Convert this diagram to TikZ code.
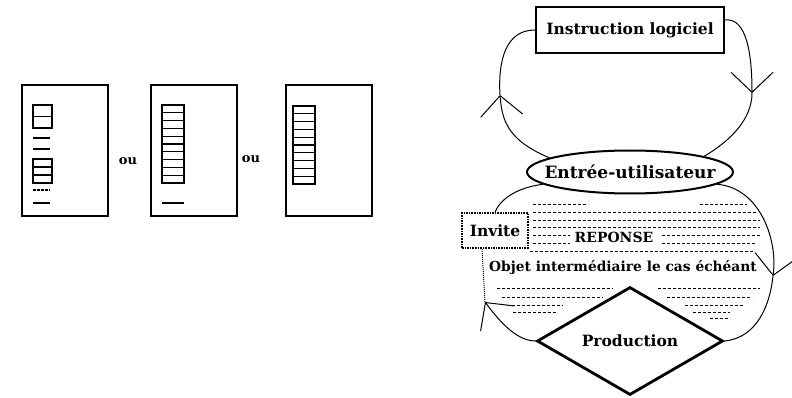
\documentclass[tikz,border=0pt]{standalone}
\usepackage{fontspec}
\setmainfont{DejaVu Serif}
\usetikzlibrary{
  arrows.meta,
  shapes.geometric
}
\tikzset{
  screenbox/.style={draw, line width=1.6pt, minimum width=86pt, minimum height=131pt, inner sep=0pt},
  listcell/.style={draw, line width=1.3pt},
  stubline/.style={line width=1.3pt},
  oulabel/.style={font=\fontsize{13}{14}\selectfont\bfseries, inner sep=0pt},
  txt/.style={font=\fontsize{15.5}{17}\selectfont\bfseries, inner sep=0pt},
  instrbox/.style={draw, line width=2.4pt, minimum width=188pt, minimum height=46pt, txt},
  userellipse/.style={draw, ellipse, line width=2pt, minimum width=206pt, minimum height=43pt, inner sep=0pt},
  invitebox/.style={draw, densely dotted, line width=1.6pt, minimum width=66pt, minimum height=35pt, txt},
  proddiamond/.style={draw, diamond, aspect=1.7, line width=2.8pt, minimum width=186pt, minimum height=108pt, txt},
  loopline/.style={line width=1pt},
  barb/.style={loopline, -{Straight Barb[length=20pt, width=42pt]}},
  hatch/.style={line width=1pt, dash pattern=on 3pt off 2pt}
}

\begin{document}
\begin{tikzpicture}[x=1pt, y=-1pt]
  \useasboundingbox (0,0) rectangle (792,398);

  % three screen layouts
  \node[screenbox] (scr1) at (65,150.5) {};
  \node[screenbox] (scr2) at (194,150.5) {};
  \node[screenbox] (scr3) at (329,150.5) {};
  \node[oulabel] (ou1) at (128,161) {ou};
  \node[oulabel] (ou2) at (251,159) {ou};

  \draw[listcell] (33,105) rectangle (52,128);
  \draw[listcell] (33,116.5) -- (52,116.5);
  \draw[listcell] (33,159) rectangle (52,183);
  \foreach \y in {167,175}
    \draw[listcell] (33,\y) -- (52,\y);
  \draw[stubline] (33,138) -- (50,138);
  \draw[stubline] (33,149) -- (50,149);
  \draw[stubline, dash pattern=on 3pt off 1pt] (33,190) -- (50,190);
  \draw[stubline] (33,203) -- (50,203);

  \foreach \x/\top in {162/105, 293/106}{
    \foreach \k in {0,...,9}
      \draw[listcell] (\x,\top+\k*7.8) rectangle +(22,7.8);
  }
  \draw[stubline, line width=1.6pt] (162,203) -- (184,203);

  % interaction loop
  \node[instrbox] (instr) at (630,30) {Instruction logiciel};
  \node[userellipse] (entree) at (630,172) {};
  \node[txt, font=\fontsize{17}{19}\selectfont\bfseries] (entreetxt) at (entree) {Entrée-utilisateur};
  \node[invitebox] (invite) at (495,230.5) {Invite};
  \node[txt, font=\fontsize{14}{16}\selectfont\bfseries] (reponse) at (614,237) {REPONSE};
  \node[txt, font=\fontsize{13.8}{16}\selectfont\bfseries] (objet) at (623,268) {Objet intermédiaire le cas échéant};
  \node[proddiamond] (prod) at (630,341) {Production};

  \foreach \y/\xa/\xb in {205/533/588, 205/700/747, 212/533/757, 220/533/760,
      227/533/760, 235/533/570, 235/662/760, 243/533/570, 243/662/757,
      251/530/755, 288/497/613, 288/658/760, 297/502/603, 297/667/752,
      305/512/563, 305/685/743, 312/513/557, 312/693/730, 318/710/730}
    \draw[hatch] (\xa,\y) -- (\xb,\y);

  \coordinate (tipL) at (500,95);
  \coordinate (tipR) at (752,93);
  \coordinate (tipLR) at (773,276);
  \coordinate (tipLL) at (485,302);

  \draw[barb] (instr.6) .. controls (742,18) and (752,40) .. (tipR);
  \draw[loopline] (tipR) .. controls (752,118) and (732,140) .. (entree.12);
  \draw[barb] (entree.170) .. controls (507,140) and (502,120) .. (tipL);
  \draw[loopline] (tipL) .. controls (498,62) and (505,30) .. (instr.west);

  \draw[barb] (entree.-8) .. controls (760,188) and (778,240) .. (tipLR);
  \draw[loopline] (tipLR) .. controls (770,305) and (757,338) .. (prod.east);
  \draw[barb] (prod.west) .. controls (515,341) and (497,318) .. (tipLL);
  \draw[loopline, densely dotted] (tipLL) -- ([xshift=-13pt]invite.south);
  \draw[loopline] (invite.north) .. controls (500,200) and (515,188) .. (entree.188);
\end{tikzpicture}
\end{document}
